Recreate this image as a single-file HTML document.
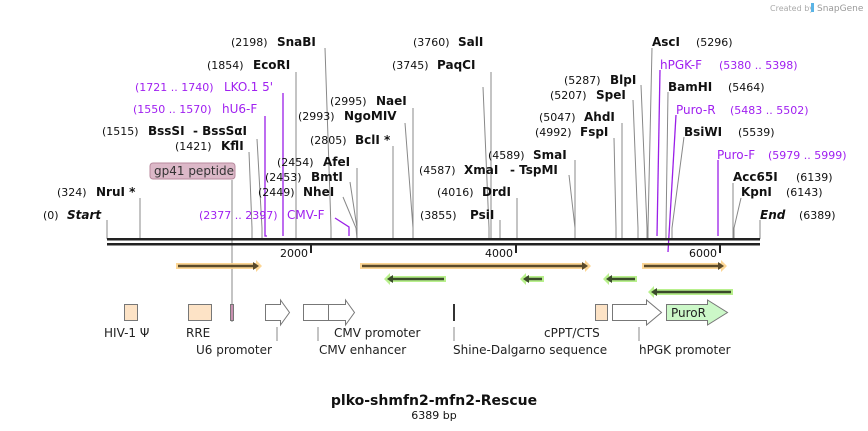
<!DOCTYPE html>
<html><head><meta charset="utf-8"><style>
html,body{margin:0;padding:0;background:#fff;}
svg{display:block;}
text{font-family:"DejaVu Sans","Liberation Sans",sans-serif;}
.n{font-size:11px;fill:#111;}
.b{font-size:12px;font-weight:bold;fill:#111;}
.p{font-size:12px;fill:#a020f0;}
.pn{font-size:11px;fill:#a020f0;}
.l{stroke:#888;stroke-width:1;fill:none;}
.pl{stroke:#9a1ee8;stroke-width:1.3;fill:none;}
.f{font-size:12px;fill:#222;}
</style></head><body>
<svg width="868" height="431" viewBox="0 0 868 431" xmlns="http://www.w3.org/2000/svg">
<text x="770" y="11" font-size="8" fill="#aaa">Created by</text>
<rect x="811" y="3" width="3" height="9" fill="#5ab4e6"/>
<text x="817" y="11" font-size="9" fill="#999">SnapGene</text>

<!-- connector lines -->
<g class="l">
<path d="M325 48 L331 228 L331 239"/>
<path d="M296 72 L296 239"/>
<path d="M257 139 L262 228 L262 239"/>
<path d="M249 152 L252 228 L252 239"/>
<path d="M232 180 L232 322"/>
<path d="M140 198 L140 239"/>
<path d="M107 220 L107 239"/>
<path d="M343 197 L356 228 L357 239"/>
<path d="M350 182 L357 228"/>
<path d="M357 168 L357 239"/>
<path d="M393 146 L393 239"/>
<path d="M405 123 L413 228 L413 239"/>
<path d="M413 108 L413 239"/>
<path d="M491 72 L491 239"/>
<path d="M483 87 L489 228 L489 239"/>
<path d="M569 175 L575 228 L575 239"/>
<path d="M575 160 L575 239"/>
<path d="M517 198 L517 239"/>
<path d="M500 220 L500 239"/>
<path d="M614 138 L616 228 L616 239"/>
<path d="M622 123 L622 239"/>
<path d="M633 100 L638 228 L638 239"/>
<path d="M641 85 L647 228 L647 239"/>
<path d="M652 48 L648 228 L648 239"/>
<path d="M668 92 L666 228 L666 239"/>
<path d="M684 137 L672 228 L672 239"/>
<path d="M733 183 L733 239"/>
<path d="M741 198 L734 228 L734 239"/>
<path d="M760 220 L760 239"/>
<path d="M277 327 L277 341"/>
<path d="M318 327 L318 341"/>
<path d="M454 327 L454 341"/>
<path d="M639 327 L639 341"/>
</g>
<g class="pl">
<path d="M283 93 L283 236"/>
<path d="M265 116 L265 236 L267 236"/>
<path d="M335 218 L349 227 L349 236"/>
<path d="M660 70 L657 236"/>
<path d="M676 115 L668 252"/>
<path d="M718 160 L718 236"/>
</g>

<!-- backbone -->
<rect x="107" y="238" width="653" height="2.5" fill="#222"/>
<rect x="107" y="243" width="653" height="2.5" fill="#222"/>
<rect x="310" y="245" width="2" height="8" fill="#222"/>
<rect x="515" y="245" width="2" height="8" fill="#222"/>
<rect x="719" y="245" width="2" height="8" fill="#222"/>
<text x="308" y="257" class="n" text-anchor="end">2000</text>
<text x="513" y="257" class="n" text-anchor="end">4000</text>
<text x="717" y="257" class="n" text-anchor="end">6000</text>

<!-- labels -->
<text x="231" y="46" class="n">(2198)</text><text x="277" y="46" class="b">SnaBI</text>
<text x="207" y="69" class="n">(1854)</text><text x="253" y="69" class="b">EcoRI</text>
<text x="135" y="91" class="pn">(1721 .. 1740)</text><text x="224" y="91" class="p">LKO.1 5'</text>
<text x="133" y="113" class="pn">(1550 .. 1570)</text><text x="222" y="113" class="p">hU6-F</text>
<text x="102" y="135" class="n">(1515)</text><text x="148" y="135" class="b">BssSI</text><text x="193" y="135" class="b">- BssSαI</text>
<text x="175" y="150" class="n">(1421)</text><text x="221" y="150" class="b">KflI</text>
<rect x="150" y="163" width="85" height="16" rx="3" fill="#dcb8c8" stroke="#b88a9e"/>
<text x="154" y="175" font-size="12" fill="#333">gp41 peptide</text>
<text x="57" y="196" class="n">(324)</text><text x="96" y="196" class="b">NruI *</text>
<text x="43" y="219" class="n">(0)</text><text x="67" y="219" class="b" font-style="italic">Start</text>
<text x="199" y="219" class="pn">(2377 .. 2397)</text><text x="287" y="219" class="p">CMV-F</text>
<text x="258" y="196" class="n">(2449)</text><text x="303" y="196" class="b">NheI</text>
<text x="265" y="181" class="n">(2453)</text><text x="311" y="181" class="b">BmtI</text>
<text x="277" y="166" class="n">(2454)</text><text x="323" y="166" class="b">AfeI</text>
<text x="310" y="144" class="n">(2805)</text><text x="355" y="144" class="b">BclI *</text>
<text x="298" y="120" class="n">(2993)</text><text x="344" y="120" class="b">NgoMIV</text>
<text x="330" y="105" class="n">(2995)</text><text x="376" y="105" class="b">NaeI</text>
<text x="413" y="46" class="n">(3760)</text><text x="458" y="46" class="b">SalI</text>
<text x="392" y="69" class="n">(3745)</text><text x="437" y="69" class="b">PaqCI</text>
<text x="419" y="174" class="n">(4587)</text><text x="464" y="174" class="b">XmaI</text><text x="510" y="174" class="b">- TspMI</text>
<text x="488" y="159" class="n">(4589)</text><text x="533" y="159" class="b">SmaI</text>
<text x="437" y="196" class="n">(4016)</text><text x="482" y="196" class="b">DrdI</text>
<text x="420" y="219" class="n">(3855)</text><text x="470" y="219" class="b">PsiI</text>
<text x="535" y="136" class="n">(4992)</text><text x="580" y="136" class="b">FspI</text>
<text x="539" y="121" class="n">(5047)</text><text x="584" y="121" class="b">AhdI</text>
<text x="550" y="99" class="n">(5207)</text><text x="596" y="99" class="b">SpeI</text>
<text x="564" y="84" class="n">(5287)</text><text x="610" y="84" class="b">BlpI</text>
<text x="652" y="46" class="b">AscI</text><text x="696" y="46" class="n">(5296)</text>
<text x="660" y="69" class="p">hPGK-F</text><text x="719" y="69" class="pn">(5380 .. 5398)</text>
<text x="668" y="91" class="b">BamHI</text><text x="728" y="91" class="n">(5464)</text>
<text x="676" y="114" class="p">Puro-R</text><text x="730" y="114" class="pn">(5483 .. 5502)</text>
<text x="684" y="136" class="b">BsiWI</text><text x="738" y="136" class="n">(5539)</text>
<text x="717" y="159" class="p">Puro-F</text><text x="768" y="159" class="pn">(5979 .. 5999)</text>
<text x="733" y="181" class="b">Acc65I</text><text x="796" y="181" class="n">(6139)</text>
<text x="741" y="196" class="b">KpnI</text><text x="786" y="196" class="n">(6143)</text>
<text x="760" y="219" class="b" font-style="italic">End</text><text x="799" y="219" class="n">(6389)</text>

<!-- ORF arrows -->
<g>
<path d="M176 263 L256 263 L256 260 L262 266 L256 272 L256 269 L176 269 Z" fill="#fcd28a" opacity="0.9"/>
<path d="M178 266 L255 266" stroke="#5a4a2a" stroke-width="2.5"/><path d="M253 262 L259 266 L253 270 Z" fill="#5a4a2a"/>
<path d="M360 263 L585 263 L585 260 L591 266 L585 272 L585 269 L360 269 Z" fill="#fcd28a" opacity="0.9"/>
<path d="M362 266 L584 266" stroke="#5a4a2a" stroke-width="2.5"/><path d="M582 262 L588 266 L582 270 Z" fill="#5a4a2a"/>
<path d="M642 263 L721 263 L721 260 L727 266 L721 272 L721 269 L642 269 Z" fill="#fcd28a" opacity="0.9"/>
<path d="M644 266 L720 266" stroke="#5a4a2a" stroke-width="2.5"/><path d="M718 262 L724 266 L718 270 Z" fill="#5a4a2a"/>

<path d="M446 276 L390 276 L390 273 L384 279 L390 285 L390 282 L446 282 Z" fill="#b8f08c"/>
<path d="M444 279 L391 279" stroke="#3a4a2a" stroke-width="2.5"/><path d="M393 275 L387 279 L393 283 Z" fill="#3a4a2a"/>
<path d="M544 276 L526 276 L526 273 L520 279 L526 285 L526 282 L544 282 Z" fill="#b8f08c"/>
<path d="M542 279 L527 279" stroke="#3a4a2a" stroke-width="2.5"/><path d="M529 275 L523 279 L529 283 Z" fill="#3a4a2a"/>
<path d="M637 276 L609 276 L609 273 L603 279 L609 285 L609 282 L637 282 Z" fill="#b8f08c"/>
<path d="M635 279 L610 279" stroke="#3a4a2a" stroke-width="2.5"/><path d="M612 275 L606 279 L612 283 Z" fill="#3a4a2a"/>
<path d="M733 289 L654 289 L654 286 L648 292 L654 298 L654 295 L733 295 Z" fill="#b8f08c"/>
<path d="M731 292 L655 292" stroke="#3a4a2a" stroke-width="2.5"/><path d="M657 288 L651 292 L657 296 Z" fill="#3a4a2a"/>
</g>

<!-- features -->
<g stroke="#777" stroke-width="1">
<rect x="124.5" y="304.5" width="13" height="16" fill="#fde3c6"/>
<rect x="188.5" y="304.5" width="23" height="16" fill="#fde3c6"/>
<rect x="230.5" y="304.5" width="3" height="16" fill="#c890b0"/>
<path d="M265.5 304.5 L280.5 304.5 L280.5 300 L289.5 312.5 L280.5 325 L280.5 320.5 L265.5 320.5 Z" fill="#fff"/>
<rect x="303.5" y="304.5" width="25" height="16" fill="#fff"/>
<path d="M328.5 304.5 L345.5 304.5 L345.5 300 L354.5 312.5 L345.5 325 L345.5 320.5 L328.5 320.5 Z" fill="#fff"/>
<rect x="595.5" y="304.5" width="12" height="16" fill="#fde3c6"/>
<path d="M612.5 304.5 L646.5 304.5 L646.5 300 L661.5 312.5 L646.5 325 L646.5 320.5 L612.5 320.5 Z" fill="#fff"/>
<path d="M666.5 304.5 L707.5 304.5 L707.5 300 L727.5 312.5 L707.5 325 L707.5 320.5 L666.5 320.5 Z" fill="#ccf8c8"/>
</g>
<rect x="453" y="304" width="2" height="17" fill="#333"/>
<text x="671" y="317" class="f">PuroR</text>

<text x="104" y="337" class="f">HIV-1 Ψ</text>
<text x="186" y="337" class="f">RRE</text>
<text x="196" y="354" class="f">U6 promoter</text>
<text x="334" y="337" class="f">CMV promoter</text>
<text x="319" y="354" class="f">CMV enhancer</text>
<text x="453" y="354" class="f">Shine-Dalgarno sequence</text>
<text x="544" y="337" class="f">cPPT/CTS</text>
<text x="639" y="354" class="f">hPGK promoter</text>

<text x="434" y="405" text-anchor="middle" font-size="14" font-weight="bold" fill="#111">plko-shmfn2-mfn2-Rescue</text>
<text x="434" y="419" text-anchor="middle" font-size="11" fill="#111">6389 bp</text>
</svg>
</body></html>
